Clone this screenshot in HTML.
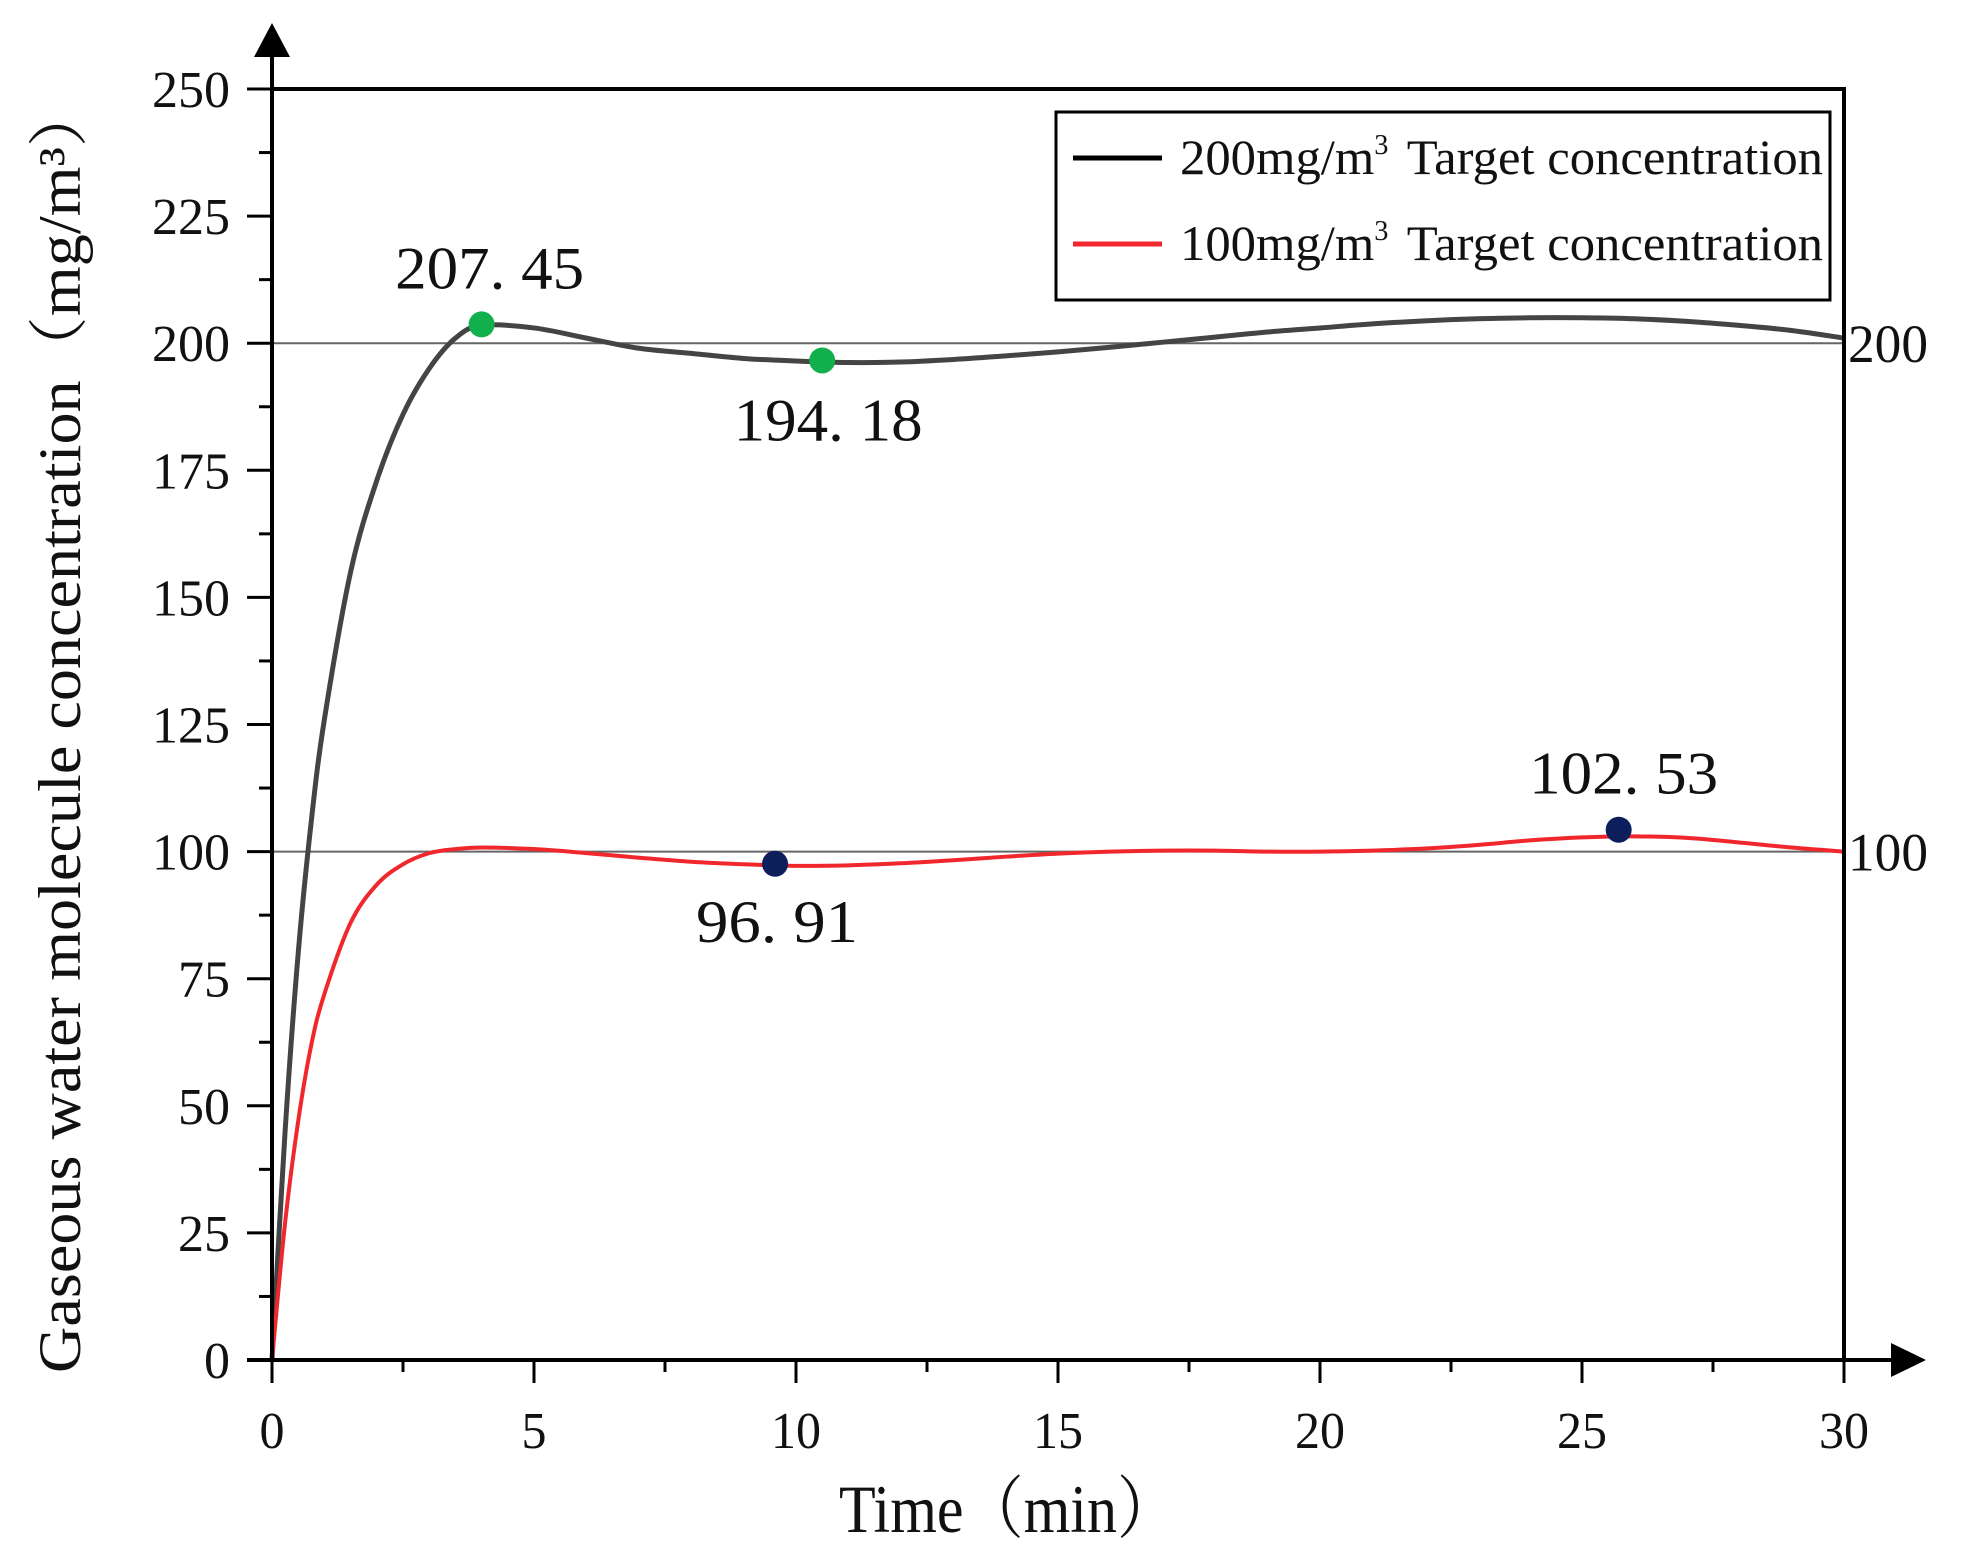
<!DOCTYPE html>
<html><head><meta charset="utf-8"><style>
html,body{margin:0;padding:0;background:#fff}
svg{display:block}
text{font-family:"Liberation Serif","Noto Serif CJK SC",serif;fill:#111}
</style></head><body>
<svg id="chart" width="1969" height="1567" viewBox="0 0 1969 1567" xmlns="http://www.w3.org/2000/svg">
<g id="g"></g>
</svg>
<script>
const times=[0,0.25,0.5,0.75,1,1.5,2,2.5,3,3.5,4,5,6,7,8,9,10,11,12,13,14,15,16,17,18,19,20,21,22,23,24,25,26,27,28,29,30];
const black200=[0,45,80,106,126,155,173,186,195,201,203.5,203,201,199,198,197,196.5,196.2,196.3,196.8,197.5,198.3,199.2,200.2,201.2,202.2,203,203.8,204.4,204.8,205,205,204.8,204.3,203.5,202.5,201];
const red100=[0,27,47,62,72,86,93.5,97.5,99.7,100.5,100.8,100.5,99.7,98.8,98,97.5,97.2,97.3,97.7,98.3,99,99.6,100,100.2,100.2,100,100,100.2,100.6,101.3,102.2,102.8,103,102.7,101.8,100.8,100];
const xTicks=[0,5,10,15,20,25,30];
const yTicks=[0,25,50,75,100,125,150,175,200,225,250];
const refLines=[200,100];
const greenT=[4.0,10.5];const greenV=[203.7,196.6];const greenLabels=["207. 45","194. 18"];
const navyT=[9.6,25.7];const navyV=[97.6,104.3];const navyLabels=["96. 91","102. 53"];

const X0=272,X1=1844,Y0=1360,Y1=89;
const sx=t=>X0+(t-0)/(30-0)*(X1-X0);
const sy=v=>Y0-(v-0)/(250-0)*(Y0-Y1);
const NS="http://www.w3.org/2000/svg";
const g=document.getElementById('g');
function mk(tag,attrs,txt){const e=document.createElementNS(NS,tag);for(const k in attrs)e.setAttribute(k,attrs[k]);if(txt!==undefined)e.textContent=txt;g.appendChild(e);return e;}

refLines.forEach(v=>{
 const l=mk('line',{x1:X0,x2:X1,y1:sy(v),y2:sy(v),stroke:'#666','stroke-width':2});
 
 
 const t=mk('text',{x:X1+4,y:sy(v)+19,'font-size':54,textLength:80,lengthAdjust:'spacingAndGlyphs'},String(v));
 
 
});

function smoothPath(xs,ys){
 const p=xs.map((t,i)=>[sx(t),sy(ys[i])]);
 let d='M'+p[0][0]+','+p[0][1];
 for(let i=0;i<p.length-1;i++){
  const p0=p[Math.max(0,i-1)],p1=p[i],p2=p[i+1],p3=p[Math.min(p.length-1,i+2)];
  const c1=[p1[0]+(p2[0]-p0[0])/6,p1[1]+(p2[1]-p0[1])/6];
  const c2=[p2[0]-(p3[0]-p1[0])/6,p2[1]-(p3[1]-p1[1])/6];
  d+=` C${c1[0]},${c1[1]} ${c2[0]},${c2[1]} ${p2[0]},${p2[1]}`;
 }
 return d;
}
const s1=mk('path',{d:smoothPath(times,black200),fill:'none',stroke:'#444','stroke-width':5});


const s2=mk('path',{d:smoothPath(times,red100),fill:'none',stroke:'#f0282d','stroke-width':4});



const fr=mk('path',{d:`M${X0},${Y1} H${X1} V${Y0}`,fill:'none',stroke:'#000','stroke-width':4});


const ya=mk('line',{x1:X0,x2:X0,y1:Y0,y2:50,stroke:'#000','stroke-width':4});


const yar=mk('polygon',{points:`${X0},23 ${X0-18},57 ${X0+18},57`,fill:'#000'});


const xa=mk('line',{x1:X0-25,x2:1900,y1:Y0,y2:Y0,stroke:'#000','stroke-width':4});


const xar=mk('polygon',{points:`1926,${Y0} 1891,${Y0-17} 1891,${Y0+17}`,fill:'#000'});



for(let t=0;t<=30;t+=2.5){
 const major=t%5===0;
 const tk=mk('line',{x1:sx(t),x2:sx(t),y1:Y0,y2:Y0+(major?23:12),stroke:'#000','stroke-width':3});
 
 
}
xTicks.forEach(t=>{
 const s=String(t);
 const tx=mk('text',{x:sx(t),y:1448,'font-size':52,'text-anchor':'middle',textLength:s.length*25,lengthAdjust:'spacingAndGlyphs'},s);
 
 
});
for(let v=0;v<=250;v+=12.5){
 const major=v%25===0;
 const tk=mk('line',{x1:X0-(major?25:13),x2:X0,y1:sy(v),y2:sy(v),stroke:'#000','stroke-width':3});
 
 
}
yTicks.forEach(v=>{
 const s=String(v);
 const ty=mk('text',{x:230,y:sy(v)+18,'font-size':52,'text-anchor':'end',textLength:s.length*26,lengthAdjust:'spacingAndGlyphs'},s);
 
 
});

function markers(ts,vs,labels,color,offs){
 ts.forEach((t,i)=>{
  const c=mk('circle',{cx:sx(t),cy:sy(vs[i]),r:13,fill:color});
  
  
  const lb=mk('text',{x:sx(t)+offs[i][0],y:sy(vs[i])+offs[i][1],'font-size':60,'text-anchor':'middle',textLength:labels[i].length*27,lengthAdjust:'spacingAndGlyphs'},labels[i]);
  
  
 });
}
markers(greenT,greenV,greenLabels,'#12b04c',[[8,-36],[6,80]]);
markers(navyT,navyV,navyLabels,'#0c1f5c',[[2,78],[5,-36]]);

const lg=mk('rect',{x:1056,y:112,width:774,height:188,fill:'#fff',stroke:'#000','stroke-width':3});


[['#000','200'],['#f0282d','100']].forEach((it,i)=>{
 const y=158+i*86;
 const l=mk('line',{x1:1073,x2:1162,y1:y,y2:y,stroke:it[0],'stroke-width':5});
 
 
 const t=mk('text',{x:1180,y:y+16,'font-size':50});
 
 
 t.innerHTML=`<tspan>${it[1]}mg/m</tspan><tspan dy="-20" font-size="28">3</tspan><tspan dy="20" dx="18">Target concentration</tspan>`;
 t.setAttribute('textLength',643);
 t.setAttribute('lengthAdjust','spacingAndGlyphs');
});

const xt=mk('text',{x:839,y:1532,'font-size':68,textLength:338,lengthAdjust:'spacingAndGlyphs'},'Time（min）');


const yt=mk('text',{x:0,y:0,'font-size':60,'text-anchor':'middle',transform:'translate(80,728) rotate(-90)',textLength:1290,lengthAdjust:'spacingAndGlyphs'},'Gaseous water molecule concentration（mg/m³）');


</script>
</body></html>
